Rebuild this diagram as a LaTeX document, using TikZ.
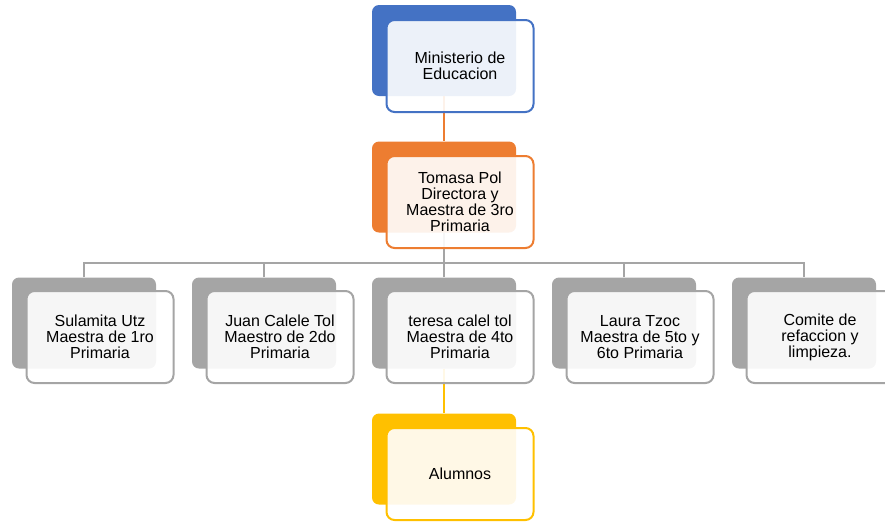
\documentclass[tikz,border=0pt]{standalone}
\usepackage{fontspec}
\setmainfont{Liberation Sans}
\definecolor{cblue}{HTML}{4472C4}
\definecolor{corange}{HTML}{ED7D31}
\definecolor{cgray}{HTML}{A5A5A5}
\definecolor{cyellow}{HTML}{FFC000}
\tikzset{
  backbox/.style={rectangle, rounded corners=7pt, fill=#1, draw=none, minimum width=144pt, minimum height=91pt, inner sep=0pt},
  frontbox/.style={rectangle, rounded corners=8pt, draw=#1, line width=2pt, fill=white, fill opacity=0.9, text opacity=1,
    minimum width=147pt, minimum height=92pt, inner sep=0pt, align=center, text=black,
    font=\fontsize{16}{16}\selectfont},
  conn/.style={draw=#1, line width=2pt}
}
\begin{document}
\begin{tikzpicture}[x=1pt,y=-1pt]
\useasboundingbox (0,0) rectangle (885,523);
\coordinate (bus) at (444,263);
% back boxes
\node[backbox=cblue] (b1) at (444,50.5) {};
\node[backbox=corange] (b2) at (444,187) {};
\node[backbox=cgray] (r1) at (84,323) {};
\node[backbox=cgray] (r2) at (264,323) {};
\node[backbox=cgray] (r3) at (444,323) {};
\node[backbox=cgray] (r4) at (624,323) {};
\node[backbox=cgray] (r5) at (804,323) {};
\node[backbox=cyellow] (b6) at (444,459) {};
% connectors
\draw[conn=corange] (b1.south) -- (b2.north);
\draw[conn=cgray] (b2.south) -- (bus);
\draw[conn=cgray] (r1.north) -- (r1.north |- bus) -- (r5.north |- bus) -- (r5.north);
\draw[conn=cgray] (r2.north) -- (r2.north |- bus);
\draw[conn=cgray] (r3.north) -- (r3.north |- bus);
\draw[conn=cgray] (r4.north) -- (r4.north |- bus);
\draw[conn=cyellow] (r3.south) -- (b6.north);
% front boxes
\node[frontbox=cblue] (f1) at (460,66) {Ministerio de\\Educacion};
\node[frontbox=corange] (f2) at (460,202) {Tomasa Pol\\Directora y\\Maestra de 3ro\\Primaria};
\node[frontbox=cgray] (g1) at (100,337) {Sulamita Utz\\Maestra de 1ro\\Primaria};
\node[frontbox=cgray] (g2) at (280,337) {Juan Calele Tol\\Maestro de 2do\\Primaria};
\node[frontbox=cgray] (g3) at (460,337) {teresa calel tol\\Maestra de 4to\\Primaria};
\node[frontbox=cgray] (g4) at (640,337) {Laura Tzoc\\Maestra de 5to y\\6to Primaria};
\node[frontbox=cgray] (g5) at (820,337) {Comite de\\refaccion y\\limpieza.};
\node[frontbox=cyellow] (f6) at (460,474) {Alumnos};
\end{tikzpicture}
\end{document}
